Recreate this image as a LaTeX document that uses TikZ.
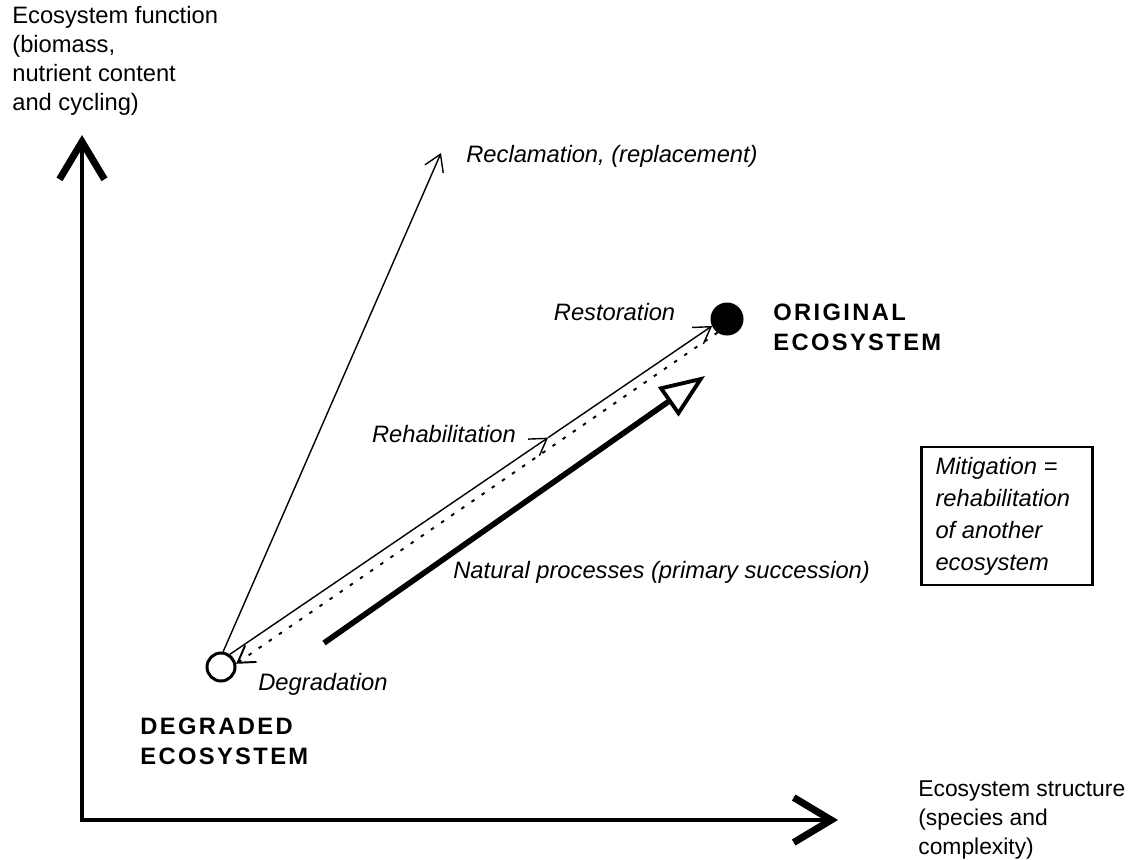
\documentclass[tikz,border=0pt]{standalone}
\usepackage{fontspec}
\setmainfont{Liberation Sans}
\usetikzlibrary{arrows.meta,positioning,calc}

\tikzset{
  axis/.style={line width=2.4pt,line join=miter,
    {Straight Barb[length=7.5mm,width=9mm,line width=4pt]}-{Straight Barb[length=7.5mm,width=9mm,line width=4pt]}},
  path/.style={line width=0.8pt},
  dotline/.style={line width=1.1pt,dash pattern=on 2pt off 5pt},
  natural/.style={line width=3.2pt,-{Triangle[open,length=9mm,width=7mm,line width=2.2pt]}},
  state/.style={circle,draw,line width=1.7pt,inner sep=0pt},
  lbl/.style={font=\fontsize{13.5}{16.5}\selectfont\itshape,inner sep=0pt},
  axlbl/.style={font=\fontsize{13.5}{16.5}\selectfont,align=left,inner sep=0pt},
  bigcap/.style={font=\fontsize{13.5}{16.8}\selectfont\bfseries\addfontfeature{LetterSpace=10},align=left,inner sep=0pt},
}

\begin{document}
\begin{tikzpicture}[x=0.02cm,y=-0.02cm,>={Straight Barb[length=3.2mm,width=4mm]}]
\useasboundingbox (0,0) rectangle (1132,859);

% axes
\coordinate (ytip) at (82,135);
\coordinate (origin) at (82,820);
\coordinate (xtip) at (838,820);
\draw[axis] (ytip) -- (origin) -- (xtip);
\node[axlbl,anchor=north west] (ylbl) at (12,6) {Ecosystem function\\(biomass,\\nutrient content\\and cycling)};
\node[axlbl,font=\fontsize{13}{16.5}\selectfont,anchor=north west] (xlbl) at (918,780) {Ecosystem structure\\(species and\\complexity)};

% ecosystems
\node[state,fill=white,minimum size=0.56cm] (degraded) at (221,667) {};
\node[state,fill=black,minimum size=0.6cm]  (original) at (727,319) {};
\node[bigcap,anchor=north west] (degradedlbl) at (140,718) {DEGRADED\\ECOSYSTEM};
\node[bigcap,anchor=north west] (originallbl) at (773,304) {ORIGINAL\\ECOSYSTEM};

% reclamation
\coordinate (reclaim) at (441,153);
\draw[path,->] (degraded.82) -- (reclaim);
\node[lbl,right=5mm of reclaim,yshift=-2pt] (reclamation) {Reclamation, (replacement)};

% rehabilitation and restoration
\coordinate (rehab) at ($(degraded.55)!0.66!(original.205)$);
\draw[path,->] (degraded.55) -- (rehab);
\draw[path,->] (rehab) -- (original.205);
\node[lbl,left=6.4mm of rehab,yshift=2pt] (rehablbl) {Rehabilitation};
\node[lbl,left=7mm of original,yshift=4pt] (restorelbl) {Restoration};

% degradation
\draw[dotline,->] (original.235) -- (degraded.12);
\node[lbl,anchor=west] (degradelbl) at (258,684) {Degradation};

% natural processes
\coordinate (natstart) at (324,643);
\coordinate (nattip) at (705,376);
\draw[natural] (natstart) -- (nattip);
\node[lbl,anchor=west] (naturallbl) at (453,572) {Natural processes (primary succession)};

% mitigation
\node[draw,line width=1.5pt,minimum width=3.42cm,minimum height=2.76cm,inner sep=0pt] (mitigation) at (1007,516) {};
\node[lbl,align=left,font=\fontsize{13.5}{18.2}\selectfont\itshape,anchor=west] (mitigationlbl) at ([xshift=3mm]mitigation.west) {Mitigation =\\rehabilitation\\of another\\ecosystem};
\end{tikzpicture}
\end{document}
